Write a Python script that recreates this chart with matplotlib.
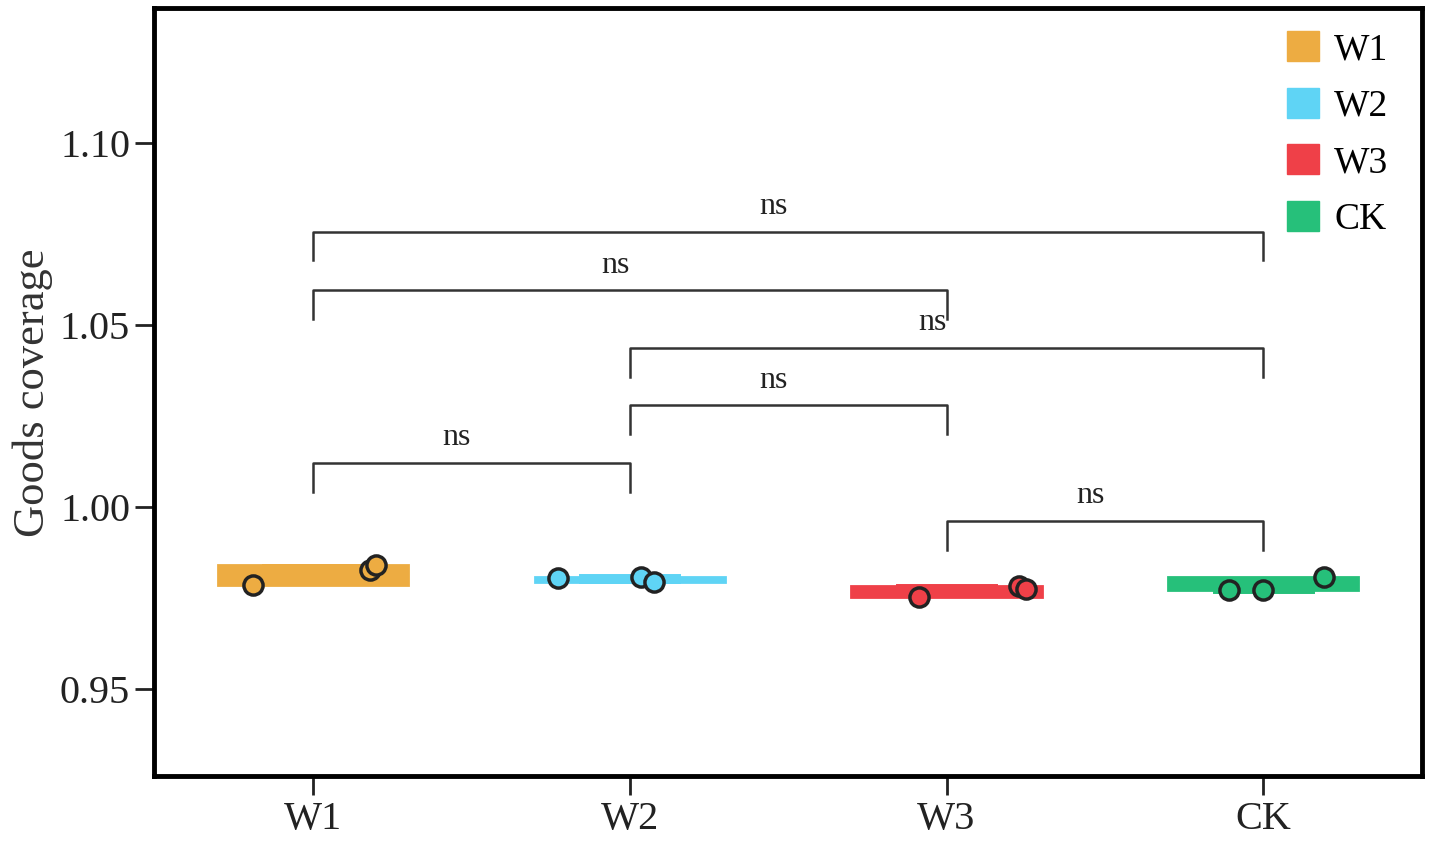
import numpy as np
import matplotlib.pyplot as plt
from matplotlib.patches import Patch

plt.rcParams['font.family'] = ['Liberation Serif', 'DejaVu Serif']

# data
groups = ['W1', 'W2', 'W3', 'CK']
colors = ['#EDAC42', '#5FD4F5', '#EF4048', '#26C07A']
values = [
    [0.9788, 0.9827, 0.9843],
    [0.9805, 0.9810, 0.9794],
    [0.9755, 0.9783, 0.9777],
    [0.9772, 0.9772, 0.9808],
]
jitter = [
    [-0.19, 0.18, 0.20],
    [-0.225, 0.035, 0.076],
    [-0.086, 0.23, 0.25],
    [-0.108, 0.0, 0.19],
]
# significance brackets: (i, j, bar height)
comparisons = [(0, 3, 1.0758), (0, 2, 1.0596), (1, 3, 1.0437),
               (1, 2, 1.0280), (0, 1, 1.0121), (2, 3, 0.9962)]
labels = ['ns'] * 6

fig = plt.figure(figsize=(14.29, 8.42), dpi=100)
ax = fig.add_axes([0.108, 0.078, 0.887, 0.912])

x = np.arange(len(groups))
for k, c in enumerate(colors):
    v = np.array(values[k])
    lo, hi = v.min(), v.max()
    q1, med, q3 = np.percentile(v, [25, 50, 75])
    # whisker range as wide bar, box as narrow bar
    ax.bar(x[k], hi - lo, bottom=lo, width=0.6, color=c, edgecolor=c,
           linewidth=2, zorder=2)
    ax.bar(x[k], q3 - q1, bottom=q1, width=0.3, color=c, edgecolor=c,
           linewidth=5, zorder=3)
    ax.scatter(x[k] + np.array(jitter[k]), v, s=190, color=c,
               edgecolor='#222222', linewidth=2.5, zorder=5)

drop = 0.0078
for (i, j, h), lab in zip(comparisons, labels):
    ax.plot([i, i, j, j], [h - drop, h, h, h - drop], color='#333333', lw=1.8)
    ax.text((i + j) / 2 - 0.045, h + 0.003, lab, ha='center', va='bottom',
            fontsize=23, color='#222222')

ax.set_xlim(-0.5, 3.5)
ax.set_ylim(0.9261, 1.1371)
ax.set_xticks(x)
ax.set_xticklabels(groups)
ax.set_yticks([0.95, 1.00, 1.05, 1.10])
ax.set_yticklabels(['0.95', '1.00', '1.05', '1.10'])
ax.tick_params(labelsize=29, length=14, width=2, direction='out', colors='#222222')
ax.set_ylabel('Goods coverage', fontsize=32, color='#333333', labelpad=5)
for s in ax.spines.values():
    s.set_linewidth(3.5)
    s.set_color('black')

handles = [Patch(facecolor=c, edgecolor=c) for c in colors]
ax.legend(handles, groups, loc='upper right', frameon=False, fontsize=27,
          handlelength=0.85, handleheight=0.85, handletextpad=0.4,
          labelspacing=0.55, borderaxespad=0.15,
          bbox_to_anchor=(0.99, 0.997))

fig.savefig('out.png', dpi=100)
